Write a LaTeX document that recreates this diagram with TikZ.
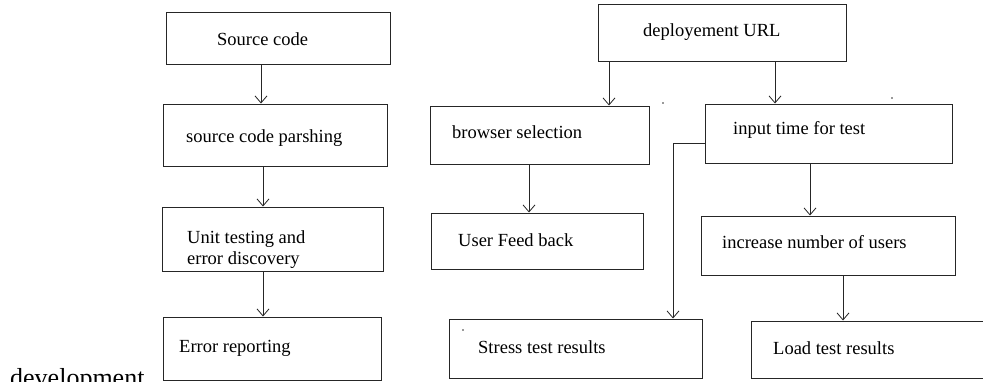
\documentclass[tikz,border=0pt]{standalone}
\usepackage{fontspec}
\setmainfont{Liberation Serif}
\usetikzlibrary{arrows.meta}
\begin{document}
\begin{tikzpicture}[x=1pt,y=-1pt,
  box/.style={draw=black!85, line width=1pt, rectangle, inner sep=0pt},
  lbl/.style={anchor=base west, inner sep=0pt, font=\fontsize{18.5}{21}\selectfont, text=black},
  arr/.style={draw=black!85, line width=1pt, -{Straight Barb[length=7pt,width=12pt,line width=0.8pt]}},
  link/.style={draw=black!85, line width=1pt}]
\clip (0,0) rectangle (983,381);
\fill[white] (0,0) rectangle (983,381);

% left column: static analysis of the source
\node[box, minimum width=224, minimum height=52] (src) at (278,38) {};
\node[box, minimum width=224, minimum height=62] (parse) at (275,135) {};
\node[box, minimum width=221, minimum height=64] (unit) at (272.5,239) {};
\node[box, minimum width=218, minimum height=63] (err) at (272,348.5) {};

\node[lbl] (src-t) at (217,45) {Source code};
\node[lbl] (parse-t) at (186,142) {source code parshing};
\node[lbl] (unit-t1) at (187,243) {Unit testing and};
\node[lbl] (unit-t2) at (187,264) {error discovery};
\node[lbl] (err-t) at (179,352) {Error reporting};

\node[anchor=base west, inner sep=0pt, font=\fontsize{26}{30}\selectfont] (dev) at (10,386) {development};

% right part: tests run against the deployed site
\node[box, minimum width=248, minimum height=57] (url) at (722,32.5) {};
\node[box, minimum width=219, minimum height=58] (browser) at (539.5,135) {};
\node[box, minimum width=212, minimum height=56] (feedback) at (537,241) {};
\node[box, minimum width=253, minimum height=59] (stress) at (575.5,348.5) {};
\node[box, minimum width=247, minimum height=59] (input) at (828.5,133.5) {};
\node[box, minimum width=254, minimum height=59] (increase) at (828,245.5) {};
\node[box, minimum width=235, minimum height=57] (load) at (868.5,349.5) {};

\node[lbl] (url-t) at (643,36) {deployement URL};
\node[lbl] (browser-t) at (452,138) {browser selection};
\node[lbl] (feedback-t) at (458,246) {User Feed back};
\node[lbl] (stress-t) at (478,353) {Stress test results};
\node[lbl] (input-t) at (733,134) {input time for test};
\node[lbl] (increase-t) at (722,248) {increase number of users};
\node[lbl] (load-t) at (773,354) {Load test results};

% connectors
\draw[arr] (src.south -| 261,0) -- (parse.north -| 261,0);
\draw[arr] (parse.south -| 263,0) -- (unit.north -| 263,0);
\draw[arr] (unit.south -| 263,0) -- (err.north -| 263,0);

\draw[arr] (url.south -| 609,0) -- (browser.north -| 609,0);
\draw[arr] (url.south -| 775,0) -- (input.north -| 775,0);
\draw[arr] (browser.south -| 529,0) -- (feedback.north -| 529,0);
\draw[arr] (input.south -| 810,0) -- (increase.north -| 810,0);
\draw[arr] (increase.south -| 843,0) -- (load.north -| 843,0);
\coordinate (bend) at (673,143);
\draw[arr] (input.west |- bend) -- (bend) -- (stress.north -| bend);

% small specks
\fill[black!80] (663,103) circle (0.9);
\fill[black!80] (892,98) circle (0.9);
\fill[black!80] (463,330) circle (0.9);
\end{tikzpicture}
\end{document}
